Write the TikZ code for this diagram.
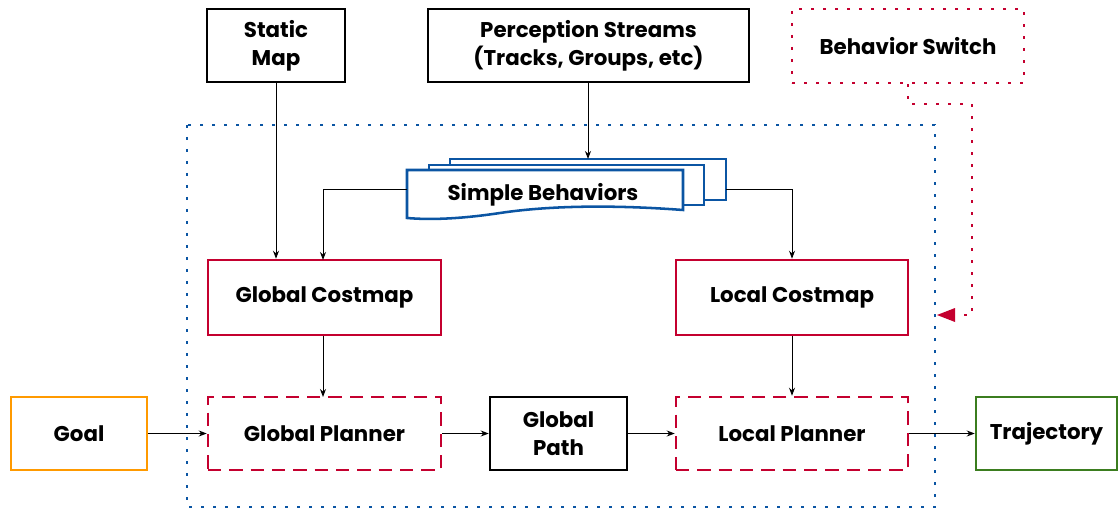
\documentclass[tikz,border=0pt]{standalone}
\usepackage{fontspec}
\setmainfont{Poppins}
\usetikzlibrary{arrows.meta}
\definecolor{myred}{HTML}{C4002F}
\definecolor{myblue}{HTML}{0B55A3}
\definecolor{myorange}{HTML}{FF9A00}
\definecolor{mygreen}{HTML}{3B7D1F}
\tikzset{
  box/.style={draw, line width=1.9pt, inner sep=0pt, align=center, font=\fontsize{16}{21}\selectfont\bfseries},
  redbox/.style={box, draw=myred},
  dashbox/.style={box, draw=myred, dash pattern=on 10pt off 6pt},
  conn/.style={line width=0.75pt, -{Stealth[length=6pt,width=4.5pt]}},
  bluedots/.style={draw=myblue, line width=2pt, dash pattern=on 2pt off 7pt},
  reddots/.style={draw=myred, line width=2pt, dash pattern=on 2pt off 7pt},
}
\begin{document}
\begin{tikzpicture}[x=0.75pt,y=-0.75pt]
\useasboundingbox (0,0) rectangle (1119,509);
% outer blue dotted frame
\draw[bluedots] (187,125) rectangle (935,507);
% boxes
\node[box, minimum width=103.5pt, minimum height=54.75pt] (static) at (276,45.5) {Static\\Map};
\node[box, minimum width=240.75pt, minimum height=54.75pt] (percep) at (588.5,45.5) {Perception Streams\\(Tracks, Groups, etc)};
\node[box, reddots, minimum width=174pt, minimum height=55.5pt] (bswitch) at (908,46) {Behavior Switch};
\node[redbox, minimum width=174.75pt, minimum height=56.25pt] (gcost) at (324.5,297.5) {Global Costmap};
\node[redbox, minimum width=174pt, minimum height=56.25pt] (lcost) at (792,297.5) {Local Costmap};
\node[dashbox, minimum width=174.75pt, minimum height=54.75pt] (gplan) at (324.5,433.5) {Global Planner};
\node[box, minimum width=102.75pt, minimum height=54.75pt] (gpath) at (558.5,433.5) {Global\\Path};
\node[dashbox, minimum width=174pt, minimum height=54.75pt] (lplan) at (792,433.5) {Local Planner};
\node[box, draw=myorange, minimum width=102pt, minimum height=54.75pt] (goal) at (79,433.5) {Goal};
\node[box, draw=mygreen, minimum width=105.75pt, minimum height=54.75pt] (traj) at (1046.5,433.5) {Trajectory};
% simple behaviors stack
\draw[myblue, line width=1.9pt, fill=white] (450,159) rectangle (726,200);
\draw[myblue, line width=1.9pt, fill=white] (429,165) rectangle (704,205);
\draw[myblue, line width=1.9pt, fill=white] (407,170) -- (683,170) -- (683,210)
  .. controls (630,206) and (560,204) .. (500,213) .. controls (460,219) and (430,220) .. (407,218) -- cycle;
\node[font=\fontsize{16}{21}\selectfont\bfseries] (sb) at (543,195) {Simple Behaviors};
\coordinate (sbtop) at (588,159);
\coordinate (sbL) at (407,190);
\coordinate (sbR) at (726,190);
% connectors
\draw[conn] (percep.south -| sbtop) -- (sbtop);
\draw[conn] (static.south) -- (static.south |- gcost.north);
\draw[conn] (sbL) -| (323,260);
\draw[conn] (sbR) -| (lcost.north);
\draw[conn] (gcost.south -| 323,0) -- (323,397);
\draw[conn] (lcost.south) -- (lplan.north);
\draw[conn] (goal.east) -- (gplan.west);
\draw[conn] (gplan.east) -- (gpath.west);
\draw[conn] (gpath.east) -- (lplan.west);
\draw[conn] (lplan.east) -- (traj.west);
% behavior switch feedback
\coordinate (fbtip) at (937,315);
\draw[reddots] (bswitch.south) -- (908,104) -- (972,104) -- (972,315) -- (958,315);
\fill[myred] (fbtip) -- ++(18,-7) -- ++(0,14) -- cycle;
\end{tikzpicture}
\end{document}
